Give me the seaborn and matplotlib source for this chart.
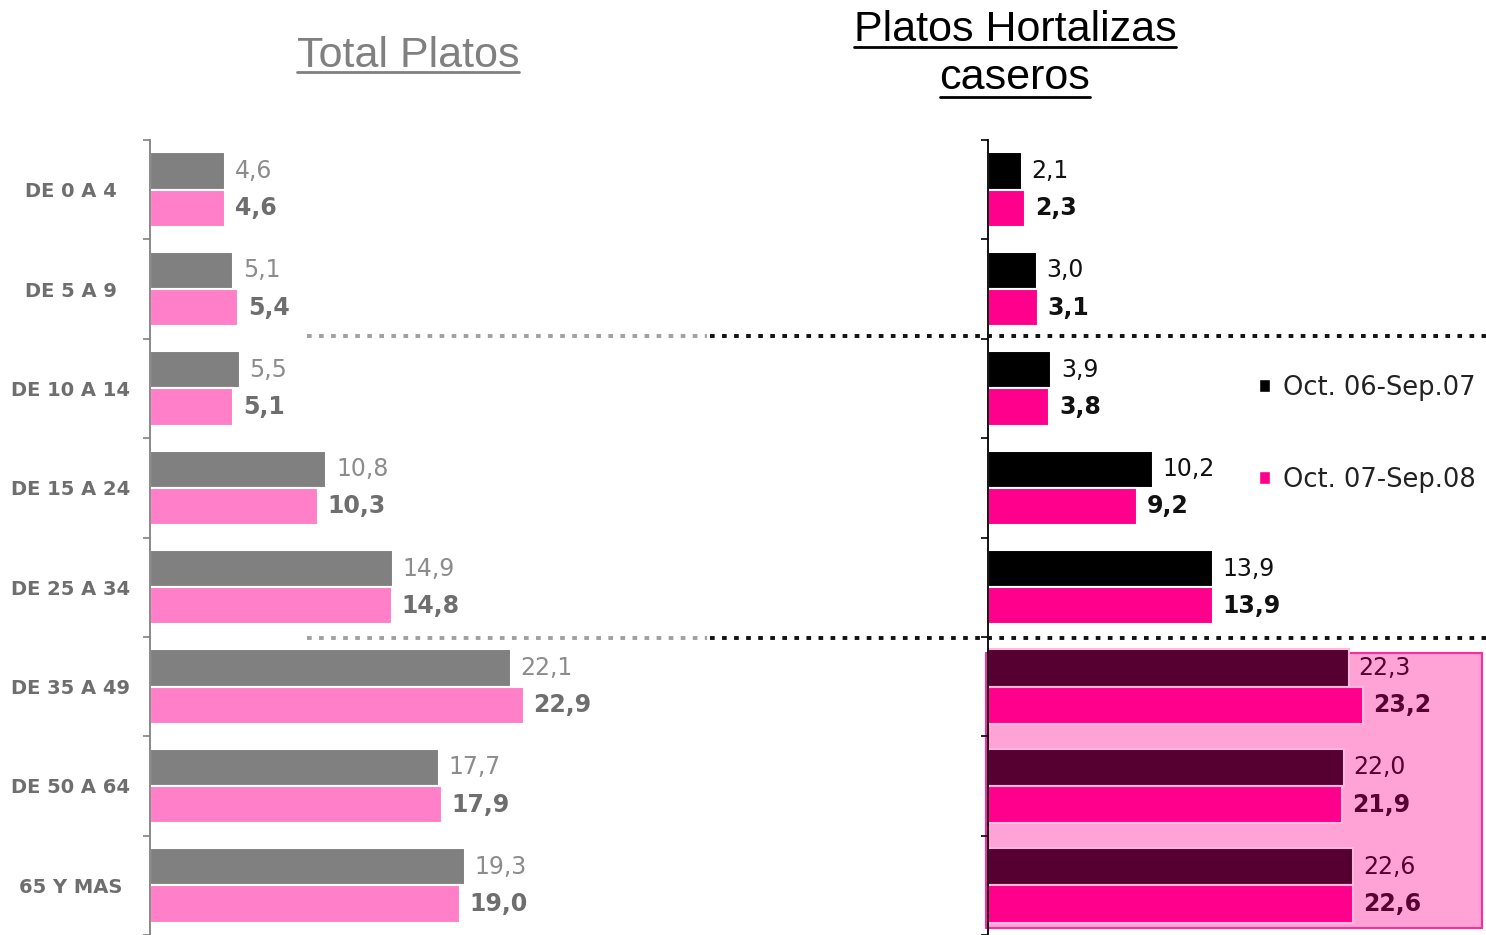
import numpy as np
import pandas as pd
import matplotlib
matplotlib.use("Agg")
import matplotlib.pyplot as plt
import seaborn as sns
from matplotlib.patches import Rectangle, Patch
from matplotlib.lines import Line2D
from matplotlib.transforms import blended_transform_factory

# ---------------- data ----------------
categories = ["DE 0 A 4", "DE 5 A 9", "DE 10 A 14", "DE 15 A 24",
              "DE 25 A 34", "DE 35 A 49", "DE 50 A 64", "65 Y MAS"]
periods = ["Oct. 06-Sep.07", "Oct. 07-Sep.08"]
total_0607 = [4.6, 5.1, 5.5, 10.8, 14.9, 22.1, 17.7, 19.3]
total_0708 = [4.6, 5.4, 5.1, 10.3, 14.8, 22.9, 17.9, 19.0]
hort_0607 = [2.1, 3.0, 3.9, 10.2, 13.9, 22.3, 22.0, 22.6]
hort_0708 = [2.3, 3.1, 3.8, 9.2, 13.9, 23.2, 21.9, 22.6]
highlight_rows = [5, 6, 7]
title_left = "Total Platos"
title_right = ["Platos Hortalizas", "caseros"]

sns.set_style("white")
plt.rcParams["font.family"] = ["DejaVu Sans"]

W, H = 1486, 935
fig = plt.figure(figsize=(W / 100, H / 100), dpi=100)
fig.patch.set_facecolor("white")

GRAY = "#808080"
PINK_L = "#FF80C8"
MAGENTA = "#FF008C"
MAROON = "#550030"
HL_FILL = "#FFA3D6"

axL = fig.add_axes([150 / W, 0, 550 / W, 795 / H])
axR = fig.add_axes([988 / W, 0, 498 / W, 795 / H])


def long_df(a, b):
    return pd.DataFrame({
        "cat": categories * 2,
        "val": list(a) + list(b),
        "period": [periods[0]] * len(categories) + [periods[1]] * len(categories),
    })


dfL = long_df(total_0607, total_0708)
dfR = long_df(hort_0607, hort_0708)

sns.barplot(data=dfL, y="cat", x="val", hue="period", orient="h",
            palette=[GRAY, PINK_L], width=0.75, saturation=1, ax=axL,
            legend=False, edgecolor="white", linewidth=1.5, errorbar=None)
sns.barplot(data=dfR, y="cat", x="val", hue="period", orient="h",
            palette=["black", MAGENTA], width=0.75, saturation=1, ax=axR,
            legend=False, edgecolor="white", linewidth=1.5, errorbar=None)

# recolor highlighted rows on the right
for j in highlight_rows:
    axR.containers[0][j].set_facecolor(MAROON)
    axR.containers[1][j].set_edgecolor("#FFB8DE")
    axR.containers[0][j].set_edgecolor("#FFB8DE")

axL.set_xlim(0, 33.7)
axR.set_xlim(0, 30.8)
for ax in (axL, axR):
    ax.set_ylim(7.5, -0.5)
    ax.xaxis.set_visible(False)
    ax.set_xlabel("")
    ax.set_ylabel("")
    for s in ("top", "right", "bottom"):
        ax.spines[s].set_visible(False)
    ax.set_facecolor("none")
    ax.set_yticks(range(len(categories)))
    ax.set_yticks(np.arange(-0.5, len(categories) + 0.5, 1), minor=True)

axL.spines["left"].set_color(GRAY)
axL.spines["left"].set_linewidth(1.3)
axR.spines["left"].set_color("black")
axR.spines["left"].set_linewidth(1.3)

axL.set_yticklabels(categories, fontsize=14, fontweight="bold", color="#6E6E6E")
for t in axL.get_yticklabels():
    t.set_ha("center")
axL.tick_params(axis="y", which="major", left=True, length=0, pad=57)
axL.tick_params(axis="y", which="minor", left=True, length=5, width=1.2,
                color=GRAY, direction="out")
axR.set_yticklabels([""] * len(categories))
axR.tick_params(axis="y", which="major", left=True, length=0)
axR.tick_params(axis="y", which="minor", left=True, length=5, width=1.2,
                color="black", direction="out")


def fmt(v):
    return f"{v:.1f}".replace(".", ",")


# value labels
for k, cont in enumerate(axL.containers):
    for j, bar in enumerate(cont):
        axL.annotate(fmt(bar.get_width()),
                     (bar.get_width(), bar.get_y() + bar.get_height() / 2),
                     xytext=(7, 0), textcoords="offset points", va="center", ha="left",
                     fontsize=17, color="#8C8C8C" if k == 0 else "#6E6E6E",
                     fontweight="normal" if k == 0 else "bold")
for k, cont in enumerate(axR.containers):
    for j, bar in enumerate(cont):
        col = MAROON if j in highlight_rows else "#111111"
        axR.annotate(fmt(bar.get_width()),
                     (bar.get_width(), bar.get_y() + bar.get_height() / 2),
                     xytext=(7, 0), textcoords="offset points", va="center", ha="left",
                     fontsize=17, color=col,
                     fontweight="normal" if k == 0 else "bold", zorder=5)

# highlight box
axR.add_patch(Rectangle((-0.12, 4.66), 30.7, 2.77, facecolor=HL_FILL,
                        edgecolor="#FF2A9E", linewidth=1.5, clip_on=False, zorder=0.5))

# dotted separators
tr = blended_transform_factory(fig.transFigure, axR.transData)
for yv in (1.47, 4.51):
    fig.add_artist(Line2D([307 / W, 707 / W], [yv, yv], transform=tr, color="#A0A0A0",
                          lw=2.8, dashes=(1.2, 1.9), solid_capstyle="butt"))
    fig.add_artist(Line2D([710 / W, 1.0], [yv, yv], transform=tr, color="#111111",
                          lw=2.8, dashes=(1.2, 1.9), solid_capstyle="butt"))

# legend
fig.legend(handles=[Patch(facecolor="black"), Patch(facecolor=MAGENTA)], labels=periods,
           loc="upper left", bbox_to_anchor=(1259 / W, 1 - 375 / H), frameon=False,
           fontsize=18.5, handlelength=0.42, handleheight=0.42, handletextpad=0.5,
           labelspacing=2.55, borderpad=0, borderaxespad=0, labelcolor="#222222")

# titles
tfont = dict(family=["Liberation Sans", "DejaVu Sans"], fontsize=31)
titles = [
    (title_left, 408, 67, 72, GRAY),
    (title_right[0], 1015, 41, 47, "black"),
    (title_right[1], 1015, 89, 97, "black"),
]
txt_objs = []
for s, xc, yb, yu, col in titles:
    t = fig.text(xc / W, 1 - yb / H, s, ha="center", va="baseline", color=col, **tfont)
    txt_objs.append((t, yu, col))

fig.canvas.draw()
rend = fig.canvas.get_renderer()
for t, yu, col in txt_objs:
    bb = t.get_window_extent(rend)
    fig.add_artist(Line2D([bb.x0 / W, bb.x1 / W], [1 - yu / H, 1 - yu / H],
                          transform=fig.transFigure, color=col, lw=2))

fig.savefig("out.png", dpi=100, facecolor="white")
